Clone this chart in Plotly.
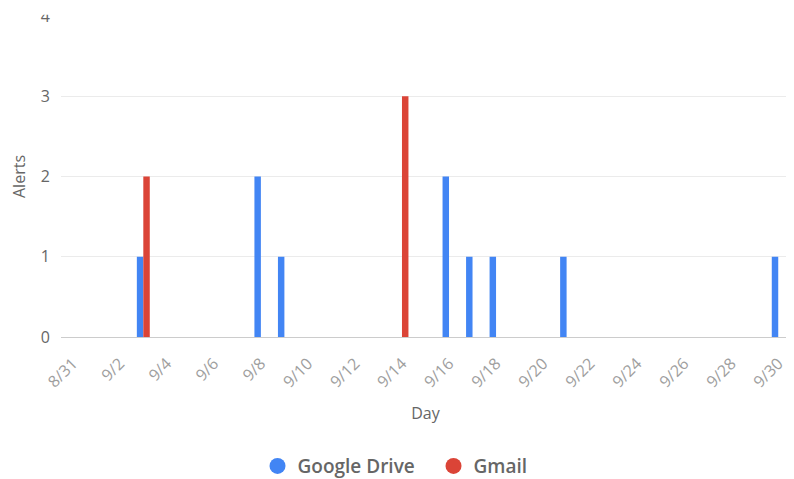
import plotly.graph_objects as go

# Data
drive_days = ["2020-09-03", "2020-09-08", "2020-09-09", "2020-09-16",
              "2020-09-17", "2020-09-18", "2020-09-21", "2020-09-30"]
drive_alerts = [1, 2, 1, 2, 1, 1, 1, 1]
gmail_days = ["2020-09-03", "2020-09-14"]
gmail_alerts = [2, 3]

series_names = ["Google Drive", "Gmail"]
series_colors = ["#4285F4", "#DB4437"]

font_family = "Open Sans, Noto Sans, sans-serif"

fig = go.Figure()
fig.add_trace(go.Bar(x=drive_days, y=drive_alerts, name=series_names[0],
                     marker=dict(color=series_colors[0], line=dict(width=0)),
                     showlegend=False))
fig.add_trace(go.Bar(x=gmail_days, y=gmail_alerts, name=series_names[1],
                     marker=dict(color=series_colors[1], line=dict(width=0)),
                     showlegend=False))
# legend entries with circle symbols
for n, c in zip(series_names, series_colors):
    fig.add_trace(go.Scatter(x=[None], y=[None], mode="markers", name=n,
                             marker=dict(color=c, size=16, symbol="circle")))

fig.update_layout(
    width=786, height=471,
    margin=dict(l=53, r=4, t=8, b=142, autoexpand=False),
    paper_bgcolor="white", plot_bgcolor="white",
    barmode="group", bargap=0.45, bargroupgap=0,
    font=dict(family=font_family, color="#666666"),
    legend=dict(orientation="h", x=0.511, xanchor="center", y=-0.402, yanchor="middle",
                font=dict(size=19, color="#666666", weight=600),
                itemsizing="trace", tracegroupgap=0,
                entrywidth=131, entrywidthmode="pixels"),
    xaxis=dict(
        type="date", automargin=False,
        range=["2020-08-30 12:00", "2020-09-30 12:00"],
        tick0="2020-08-31", dtick=2 * 86400000, tickformat="%-m/%-d",
        tickangle=-45, tickfont=dict(size=16, color="#9e9e9e"),
        ticklabelstandoff=10,
        showgrid=False, showline=True, linecolor="#cccccc", linewidth=1,
        ticks="", title=dict(text="Day", font=dict(size=16, color="#666666"), standoff=16),
    ),
    yaxis=dict(
        range=[0, 4], dtick=1, automargin=False, ticklabeloverflow="allow",
        tickfont=dict(size=16, color="#666666"),
        showgrid=True, gridcolor="#ebebeb", gridwidth=1, zeroline=False,
        ticks="", ticklabelstandoff=10,
        title=dict(text="Alerts", font=dict(size=16, color="#666666"), standoff=12),
    ),
    shapes=[dict(type="rect", xref="paper", yref="paper", x0=-0.1, x1=-0.005,
                 y0=1.004, y1=1.06, fillcolor="white", line=dict(width=0), layer="above")],
)

fig.write_html("out.html")
